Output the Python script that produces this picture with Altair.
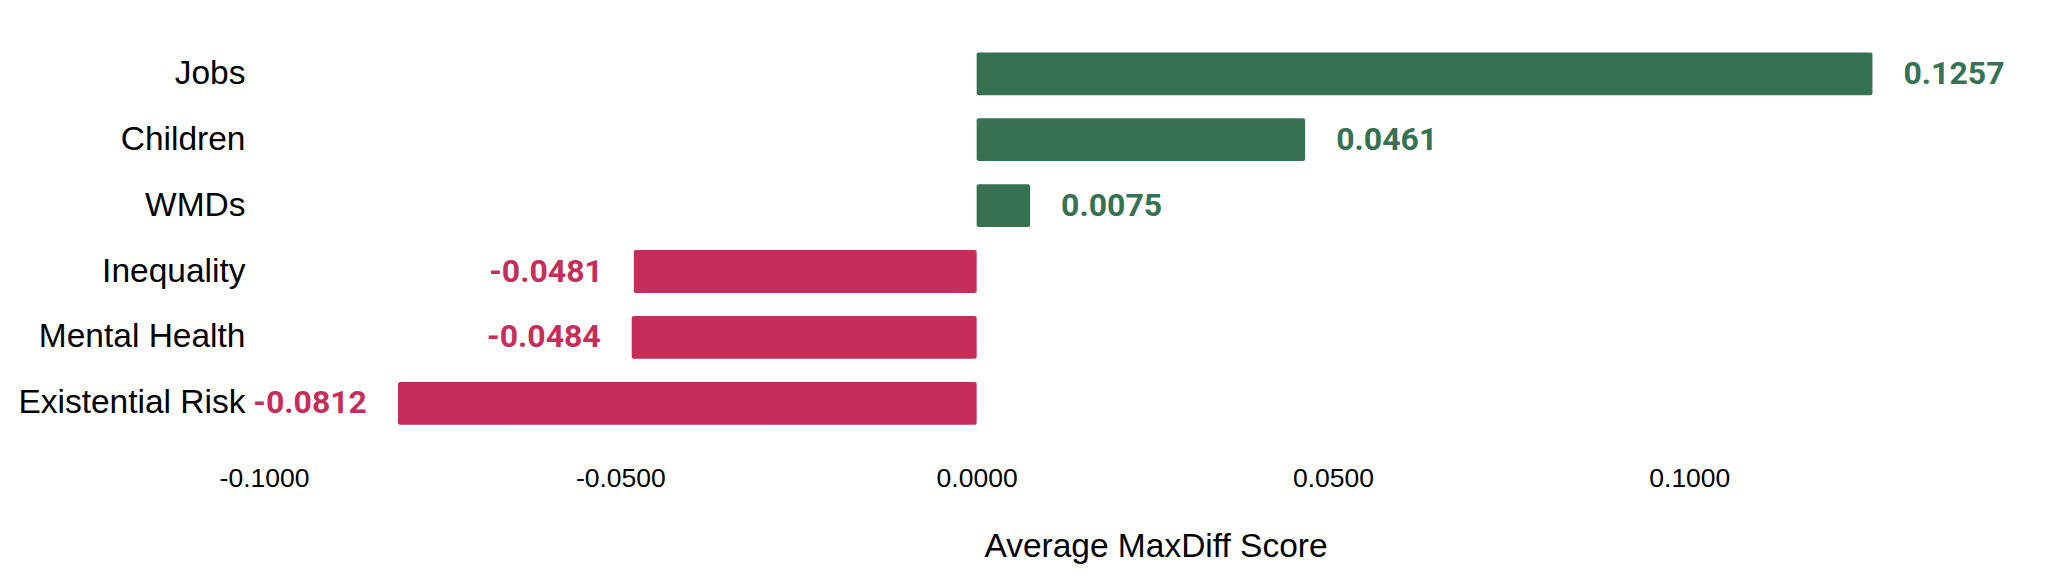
import altair as alt
import pandas as pd

categories = ["Jobs", "Children", "WMDs", "Inequality", "Mental Health", "Existential Risk"]
scores = [0.1257, 0.0461, 0.0075, -0.0481, -0.0484, -0.0812]
labels = ["0.1257", "0.0461", "0.0075", "-0.0481", "-0.0484", "-0.0812"]
tick_values = [-0.1, -0.05, 0.0, 0.05, 0.1]

GREEN = "#367152"
RED = "#C52E5A"

df = pd.DataFrame({"category": categories, "score": scores, "label": labels})
df["sign"] = ["pos" if v >= 0 else "neg" for v in scores]

W = 1746
H = 395.4

x_scale = alt.Scale(domain=[-0.1, 0.145], nice=False, zero=False)
y_scale = alt.Scale(paddingInner=0.35, paddingOuter=0.175)
color_scale = alt.Scale(domain=["pos", "neg"], range=[GREEN, RED])

base = alt.Chart(df)

bars = base.mark_bar(cornerRadius=2).encode(
    y=alt.Y("category:N", sort=categories, scale=y_scale,
            axis=alt.Axis(title=None, domain=False, ticks=False, tickSize=0,
                          labelFont="Liberation Sans", labelFontSize=33.5,
                          labelColor="#000000", labelPadding=19, labelLimit=400)),
    x=alt.X("score:Q", scale=x_scale,
            axis=alt.Axis(title="Average MaxDiff Score", values=tick_values,
                          labelExpr="(datum.value < 0 ? '-' : '') + format(abs(datum.value), '.4f')",
                          domain=False, ticks=False, tickSize=0, grid=False,
                          labelFlush=False, labelOverlap=False,
                          labelFont="Liberation Sans", labelFontSize=26.5,
                          labelColor="#000000", labelPadding=29,
                          titleFont="Liberation Sans", titleFontSize=33.5,
                          titleFontWeight="normal", titleColor="#000000",
                          titleBaseline="alphabetic", titleAlign="center",
                          titleX=891.5, titleY=119.75)),
    x2=alt.X2(datum=0),
    color=alt.Color("sign:N", scale=color_scale, legend=None),
)

pos_text = base.transform_filter("datum.score >= 0").mark_text(
    align="left", baseline="middle", dx=31, font="Roboto", fontSize=32, fontWeight="bold"
).encode(
    y=alt.Y("category:N", sort=categories, scale=y_scale),
    x=alt.X("score:Q", scale=x_scale),
    text="label:N",
    color=alt.Color("sign:N", scale=color_scale, legend=None),
)

neg_text = base.transform_filter("datum.score < 0").mark_text(
    align="right", baseline="middle", dx=-31, font="Roboto", fontSize=32, fontWeight="bold"
).encode(
    y=alt.Y("category:N", sort=categories, scale=y_scale),
    x=alt.X("score:Q", scale=x_scale),
    text="label:N",
    color=alt.Color("sign:N", scale=color_scale, legend=None),
)

chart = alt.layer(bars, pos_text, neg_text).properties(
    width=W, height=H,
    background="white",
    autosize=alt.AutoSizeParams(type="none"),
    padding={"left": 256, "top": 32.85, "right": 10, "bottom": 135},
).configure_view(strokeWidth=0, stroke="transparent")

chart.save("out.html", embed_options={"renderer": "svg", "actions": False})
